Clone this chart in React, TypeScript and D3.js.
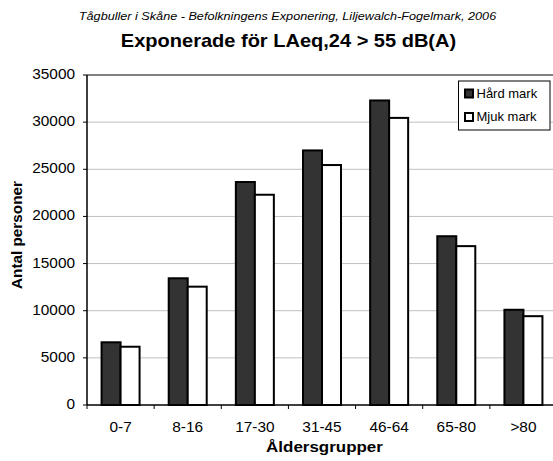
import React from "react";
import * as d3 from "d3";

const categories = ["0-7", "8-16", "17-30", "31-45", "46-64", "65-80", ">80"];
const hardMark = [6650, 13440, 23650, 27000, 32300, 17900, 10100];
const mjukMark = [6180, 12550, 22300, 25450, 30450, 16850, 9420];
const seriesNames = ["Hård mark", "Mjuk mark"];
const yTicks = [0, 5000, 10000, 15000, 20000, 25000, 30000, 35000];

const W = 553, H = 461;
const left = 87, right = 557, top = 75, bottom = 405;

function SText(props: { x: number; y: number; sx?: number; anchor?: string; size: number; weight?: string; italic?: boolean; children: React.ReactNode }) {
  const { x, y, sx = 1.1, anchor = "start", size, weight, italic, children } = props;
  return (
    <text transform={`translate(${x},${y}) scale(${sx},1)`} textAnchor={anchor} fontSize={size} fontWeight={weight} fontStyle={italic ? "italic" : undefined}>
      {children}
    </text>
  );
}

export default function App() {
  const x = d3.scaleBand<string>().domain(categories).range([left, right]).paddingInner(0).paddingOuter(0);
  const y = d3.scaleLinear().domain([0, 35000]).range([bottom, top]);
  const barW = 19;
  const font = "Arial, 'Liberation Sans', Helvetica, sans-serif";
  return (
    <svg width={W} height={H} style={{ position: "absolute", left: 0, top: 0, fontFamily: font }}>
      <rect x={0} y={0} width={W} height={H} fill="#fff" />
      <SText x={287.5} y={19.5} anchor="middle" size={11.5} italic sx={1.1}>Tågbuller i Skåne - Befolkningens Exponering, Liljewalch-Fogelmark, 2006</SText>
      <SText x={288.5} y={46.7} anchor="middle" size={18.2} weight="bold" sx={1.1}>Exponerade för LAeq,24 &gt; 55 dB(A)</SText>
      {yTicks.filter(t => t > 0 && t < 35000).map(t => (
        <line key={t} x1={left} x2={right} y1={y(t)} y2={y(t)} stroke="#c0c0c0" strokeWidth={1} />
      ))}
      <line x1={left} x2={right} y1={y(35000)} y2={y(35000)} stroke="#808080" strokeWidth={2} />
      {categories.map((c, i) => {
        const cx = x(c)! + x.bandwidth() / 2;
        return (
          <g key={c}>
            <rect x={cx - barW} y={y(hardMark[i])} width={barW} height={bottom - y(hardMark[i])} fill="#333333" stroke="#000" strokeWidth={2} />
            <rect x={cx} y={y(mjukMark[i])} width={barW} height={bottom - y(mjukMark[i])} fill="#ffffff" stroke="#000" strokeWidth={2} />
          </g>
        );
      })}
      <line x1={left} x2={left} y1={top} y2={bottom} stroke="#000" strokeWidth={1.5} />
      <line x1={left} x2={right} y1={bottom} y2={bottom} stroke="#000" strokeWidth={1.5} />
      {yTicks.map(t => (
        <g key={t}>
          <line x1={left - 4} x2={left} y1={y(t)} y2={y(t)} stroke="#000" strokeWidth={1} />
          <SText x={75} y={y(t) + 4} anchor="end" size={14}>{t}</SText>
        </g>
      ))}
      {categories.map(c => (
        <g key={c}>
          <line x1={x(c)!} x2={x(c)!} y1={bottom} y2={bottom + 4} stroke="#000" strokeWidth={1} />
          <SText x={x(c)! + x.bandwidth() / 2} y={431.5} anchor="middle" size={14}>{c}</SText>
        </g>
      ))}
      <SText x={324.5} y={451.5} anchor="middle" size={15} weight="bold" sx={1.13}>Åldersgrupper</SText>
      <text transform={`translate(22,${235}) rotate(-90)`} textAnchor="middle" fontSize={15.3} fontWeight="bold">Antal personer</text>
      <rect x={458.5} y={81} width={91.5} height={49} fill="#fff" stroke="#000" strokeWidth={1} />
      {seriesNames.map((n, i) => (
        <g key={n}>
          <rect x={465} y={89.5 + i * 23.5} width={8} height={8} fill={i === 0 ? "#333333" : "#fff"} stroke="#000" strokeWidth={2} />
          <text x={476.5} y={97.5 + i * 23.5} fontSize={13}>{n}</text>
        </g>
      ))}
    </svg>
  );
}
